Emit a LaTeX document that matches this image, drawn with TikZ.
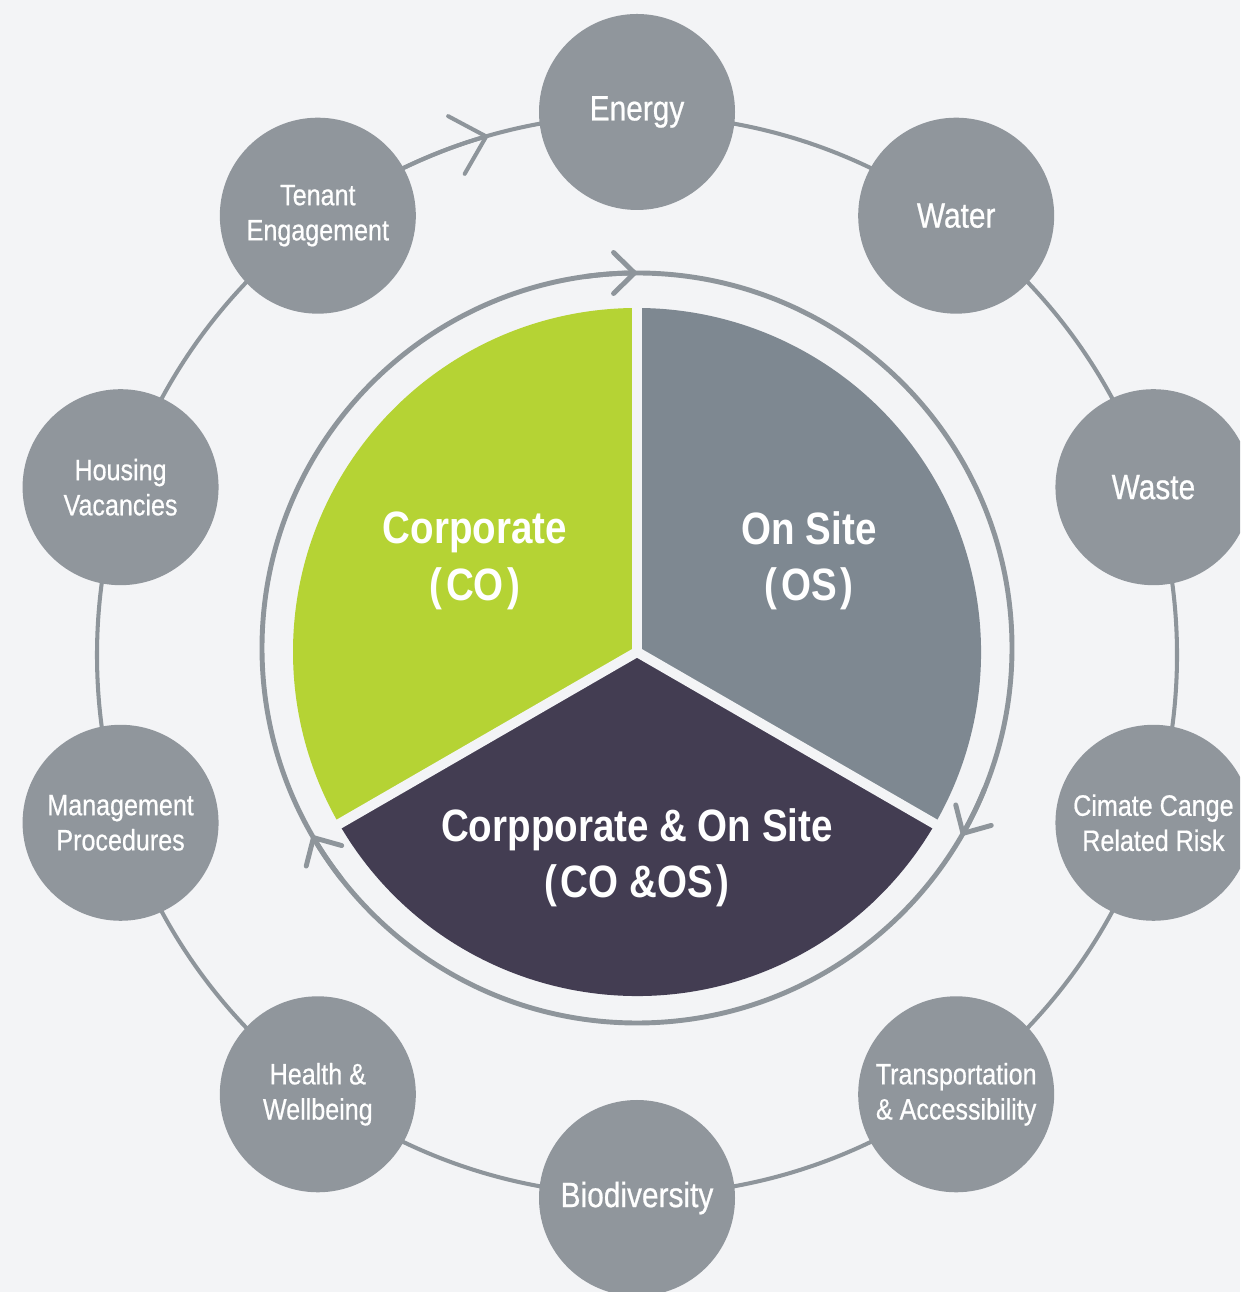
\documentclass[tikz,border=0pt]{standalone}
\usepackage{fontspec}
\setmainfont{Liberation Sans}[FakeStretch=0.85]
\newfontfamily\topicfont{Liberation Sans}[FakeStretch=0.85, FakeBold=0.6]
\usetikzlibrary{arrows.meta, positioning, calc}
\definecolor{cBack}{RGB}{243,244,246}
\definecolor{cDot}{RGB}{144,150,156}
\definecolor{cRing}{RGB}{142,149,155}
\definecolor{cLime}{RGB}{181,211,52}
\definecolor{cSlate}{RGB}{126,136,145}
\definecolor{cPlum}{RGB}{67,61,82}
\tikzset{
	topic/.style    ={circle, fill=cDot, text=white, minimum size=3.92cm, inner sep=0pt, align=center, font=\topicfont\fontsize{16.8}{20}\selectfont},
	bigtopic/.style ={topic, font=\topicfont\fontsize{20}{24}\selectfont},
	ring/.style     ={draw=cRing, line width=2.3pt},
	inring/.style   ={draw=cRing, line width=2.8pt},
	slicelbl/.style ={text=white, align=center, font=\fontsize{25.8}{32}\selectfont\bfseries},
	gap/.style      ={draw=cBack, line width=0.2cm, line cap=round},
	% open chevrons sitting on the rings
	barb/.style     ={-{Straight Barb[length=0.62cm, width=1.2cm, round]}},
	smallbarb/.style={-{Straight Barb[length=0.42cm, width=0.82cm, round]}},
}

\begin{document}
\begin{tikzpicture}
	\clip (0,0) rectangle (24.8,25.84);
	\fill[cBack] (0,0) rectangle (24.8,25.84);
	\coordinate (hub) at (12.74,12.74);
	\coordinate (mid) at (12.74,12.88);
	\coordinate (pie) at (12.74,12.80);
	% outer ring
	\draw[ring] (hub) circle[radius=10.8];
	\draw[ring, barb] (hub) ++(118:10.8) arc[start angle=118, end angle=106, radius=10.8];
	% topic circles
	\foreach \a/\t [count=\i] in {90/Energy, 54/Water, 18/Waste, -90/Biodiversity}
		\node[bigtopic] (big\i) at ($(hub)+(\a:10.86)$) {\t};
	\foreach \a/\t [count=\i] in {-18/{Cimate Cange\\Related Risk}, -54/{Transportation\\\& Accessibility}, -126/{Health \&\\Wellbeing}, -162/{Management\\Procedures}, 162/{Housing\\Vacancies}, 126/{Tenant\\Engagement}}
		\node[topic] (sm\i) at ($(hub)+(\a:10.86)$) {\t};
	% inner ring
	\draw[inring] (mid) circle[radius=7.5];
	\foreach \a in {90,-30,210}
		\draw[inring, smallbarb] (mid) ++(\a+8:7.5) arc[start angle=\a+8, end angle=\a, radius=7.5];
	% pie
	\fill[cLime] (pie) -- ++(90:6.88) arc[start angle=90, end angle=210, radius=6.88] -- cycle;
	\fill[cSlate] (pie) -- ++(-30:6.88) arc[start angle=-30, end angle=90, radius=6.88] -- cycle;
	\fill[cPlum] (pie) -- ++(210:6.88) arc[start angle=210, end angle=330, radius=6.88] -- cycle;
	\foreach \a in {90,210,330}
		\draw[gap] (pie) -- ++(\a:7);
	\node[slicelbl] (co) at (9.5,14.62) {Corporate\\(\kern0.08em CO\kern0.08em)};
	\node[slicelbl] (os) at (16.18,14.62) {On Site\\(\kern0.08em OS\kern0.08em)};
	\node[slicelbl] (coos) at (12.74,8.68) {Corpporate \& On Site\\(\kern0.08em CO \&OS\kern0.08em)};
\end{tikzpicture}
\end{document}
